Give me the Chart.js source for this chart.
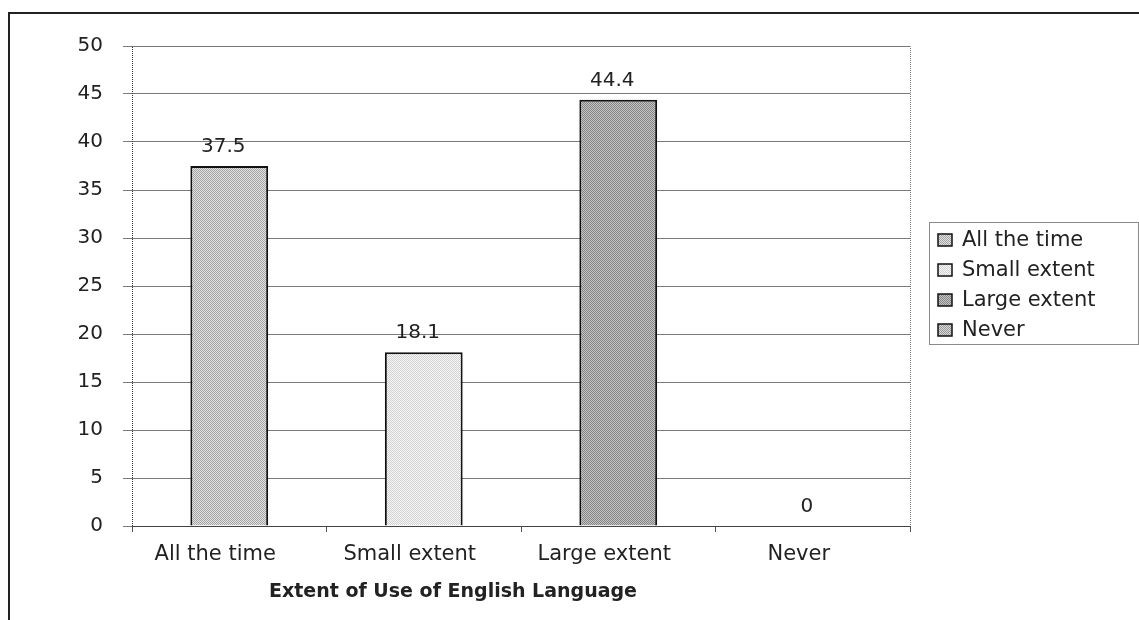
<!DOCTYPE html>
<html>
<head>
<meta charset="utf-8">
<script src="https://cdn.jsdelivr.net/npm/chart.js@4/dist/chart.umd.min.js"></script>
<style>
  html, body { margin: 0; padding: 0; background: #fff; }
  #wrap { width: 1139px; height: 620px; position: relative; }
</style>
</head>
<body>
<div id="wrap"><canvas id="chart" width="1139" height="620"></canvas></div>
<script>
const categories = ['All the time', 'Small extent', 'Large extent', 'Never'];
const values = [37.5, 18.1, 44.4, 0];
const yTickValues = [0, 5, 10, 15, 20, 25, 30, 35, 40, 45, 50];
const xTitle = 'Extent of Use of English Language';

// light / dark pixel of the dotted fill per category
const shades = [
  ['#e2e2e2', '#a4a4a4'],
  ['#f7f7f7', '#d2d2d2'],
  ['#c2c2c2', '#878787'],
  ['#d6d6d6', '#9a9a9a']
];

const FONT = '"DejaVu Sans", Verdana, sans-serif';

function makePattern(light, dark) {
  const c = document.createElement('canvas');
  c.width = 2; c.height = 2;
  const g = c.getContext('2d');
  g.fillStyle = light; g.fillRect(0, 0, 2, 2);
  g.fillStyle = dark; g.fillRect(0, 0, 1, 1); g.fillRect(1, 1, 1, 1);
  return g.createPattern(c, 'repeat');
}
const fills = shades.map(([l, d]) => makePattern(l, d));

const framePlugin = {
  id: 'frame',
  beforeDraw(chart) {
    const ctx = chart.ctx;
    ctx.save();
    ctx.strokeStyle = '#222';
    ctx.lineWidth = 2;
    ctx.beginPath();
    ctx.moveTo(9, 620); ctx.lineTo(9, 13); ctx.lineTo(1139, 13);
    ctx.stroke();
    ctx.restore();
  },
  afterDatasetsDraw(chart) {
    const ctx = chart.ctx;
    const a = chart.chartArea;
    ctx.save();
    // dotted edges of plot area (left, top, right)
    ctx.lineWidth = 1;
    ctx.setLineDash([1, 1]);
    ctx.strokeStyle = '#333';
    ctx.beginPath();
    ctx.moveTo(a.left + 0.5, a.bottom); ctx.lineTo(a.left + 0.5, a.top);
    ctx.stroke();
    ctx.strokeStyle = '#777';
    ctx.beginPath();
    ctx.moveTo(a.left, a.top + 0.5); ctx.lineTo(a.right + 0.5, a.top + 0.5); ctx.lineTo(a.right + 0.5, a.bottom);
    ctx.stroke();
    ctx.setLineDash([]);
    // value labels
    ctx.fillStyle = '#222';
    ctx.font = '20px ' + FONT;
    ctx.textAlign = 'center';
    ctx.textBaseline = 'middle';
    chart.getDatasetMeta(0).data.forEach((bar, i) => {
      ctx.fillText(String(values[i]), bar.x - 6, bar.y - 19);
    });
    // x axis title
    ctx.font = 'bold 19px ' + FONT;
    ctx.fillText(xTitle, 453, 592);
    // legend
    ctx.strokeStyle = '#8a8a8a';
    ctx.strokeRect(929.5, 222.5, 209, 122);
    ctx.textAlign = 'left';
    ctx.font = '21px ' + FONT;
    categories.forEach((name, i) => {
      const y = 240 + i * 30;
      ctx.fillStyle = fills[i];
      ctx.fillRect(938, y - 6, 14, 12);
      ctx.strokeStyle = '#111';
      ctx.lineWidth = 1.5;
      ctx.strokeRect(938, y - 6, 14, 12);
      ctx.fillStyle = '#222';
      ctx.fillText(name, 962, y + 1);
    });
    ctx.restore();
  }
};

new Chart(document.getElementById('chart'), {
  type: 'bar',
  data: {
    labels: categories,
    datasets: [{
      data: values,
      backgroundColor: fills,
      borderColor: '#111',
      borderWidth: 2,
      borderSkipped: 'bottom',
      barPercentage: 0.4,
      categoryPercentage: 1.0
    }]
  },
  options: {
    responsive: false,
    animation: false,
    layout: { padding: { top: 46, right: 229, left: 0, bottom: 0 } },
    plugins: { legend: { display: false }, tooltip: { enabled: false } },
    scales: {
      x: {
        afterFit(scale) { scale.height = 94; },
        grid: { offset: true, drawOnChartArea: false, tickLength: 6, color: '#555' },
        border: { color: '#444', width: 1 },
        ticks: { color: '#222', font: { size: 21, family: FONT }, padding: 10, labelOffset: -14 }
      },
      y: {
        min: 0,
        max: 50,
        afterFit(scale) { scale.width = 132; },
        afterBuildTicks(scale) { scale.ticks = yTickValues.map(v => ({ value: v })); },
        grid: { color: '#7a7a7a', tickLength: 9 },
        border: { display: false },
        ticks: { color: '#222', font: { size: 20, family: FONT }, padding: 20 }
      }
    }
  },
  plugins: [framePlugin]
});
</script>
</body>
</html>
